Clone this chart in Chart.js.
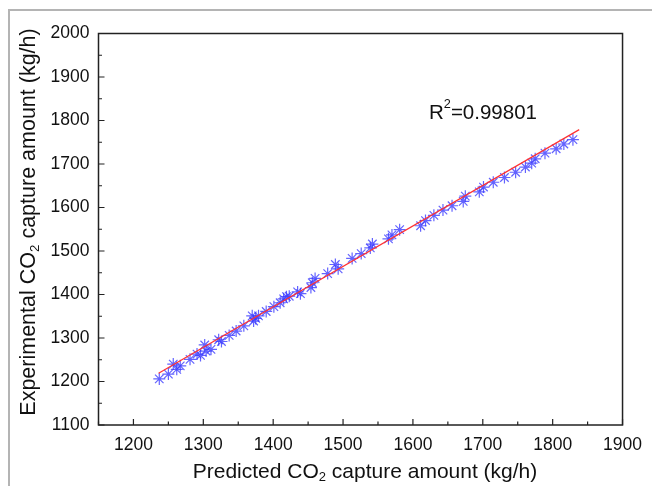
<!DOCTYPE html>
<html>
<head>
<meta charset="utf-8">
<script src="https://cdn.jsdelivr.net/npm/chart.js@4"></script>
<style>
    html, body { margin: 0; padding: 0; background: #fff; }
    #wrap { width: 652px; height: 486px; position: relative; }
</style>
</head>
<body>
<div id="wrap"><canvas id="fitChart" width="652" height="486"></canvas></div>
<script>
// values
const predicted = [1237, 1250, 1257, 1262, 1267, 1281, 1291, 1296, 1302, 1304, 1311, 1322, 1326, 1337, 1347, 1358,
    1370, 1372, 1375, 1379, 1390, 1401, 1410, 1415, 1419, 1423, 1435, 1439, 1454, 1456, 1460, 1478, 1489, 1493,
    1513, 1526, 1539, 1542, 1565, 1570, 1581, 1611, 1618, 1630, 1643, 1656, 1672, 1675, 1695, 1701, 1715, 1731,
    1747, 1761, 1770, 1775, 1789, 1805, 1816, 1829];
const experimental = [1206, 1217, 1240, 1228, 1236, 1251, 1263, 1260, 1284, 1270, 1274, 1296, 1292, 1306, 1316, 1328,
    1351, 1339, 1345, 1351, 1361, 1372, 1381, 1390, 1395, 1396, 1406, 1402, 1416, 1427, 1437, 1448, 1469, 1459,
    1483, 1494, 1507, 1516, 1528, 1537, 1549, 1558, 1570, 1582, 1594, 1604, 1614, 1626, 1636, 1647, 1658, 1669,
    1681, 1693, 1702, 1712, 1725, 1735, 1746, 1756];
const fitX = [1236, 1838];
const fitY = [1219, 1779];
const xTicks = [1200, 1300, 1400, 1500, 1600, 1700, 1800, 1900];
const yTicks = [1100, 1200, 1300, 1400, 1500, 1600, 1700, 1800, 1900, 2000];
const r2Text = '0.99801';

const FONT = '"Liberation Sans", Arial, sans-serif';

// text with a small subscript / superscript piece
function drawRich(ctx, parts, x, y, size) {
    let total = 0;
    parts.forEach(p => {
        ctx.font = (p.sub || p.sup ? size * 0.62 : size) + 'px ' + FONT;
        total += ctx.measureText(p.t).width;
    });
    let cx = x - total / 2;
    parts.forEach(p => {
        const s = p.sub || p.sup ? size * 0.62 : size;
        ctx.font = s + 'px ' + FONT;
        let dy = 0;
        if (p.sub) dy = size * 0.28;
        if (p.sup) dy = -size * 0.42;
        ctx.fillText(p.t, cx, y + dy);
        cx += ctx.measureText(p.t).width;
    });
}

const framePlugin = {
    id: 'frame',
    beforeDraw(chart) {
        const ctx = chart.ctx;
        ctx.save();
        ctx.strokeStyle = '#b4b4b4';
        ctx.lineWidth = 2;
        ctx.beginPath();
        ctx.moveTo(652, 10);
        ctx.lineTo(9, 10);
        ctx.lineTo(9, 486);
        ctx.stroke();
        ctx.restore();
    },
    afterDraw(chart) {
        const ctx = chart.ctx;
        const a = chart.chartArea;
        const xs = chart.scales.x, ys = chart.scales.y;
        ctx.save();
        ctx.strokeStyle = '#222';
        ctx.lineWidth = 1.5;
        ctx.strokeRect(a.left, a.top, a.right - a.left, a.bottom - a.top);
        ctx.lineWidth = 1.2;
        ctx.beginPath();
        // inward ticks, major and minor
        for (let v = 1150; v <= 1900; v += 50) {
            const px = xs.getPixelForValue(v);
            const len = v % 100 === 0 ? 6 : 3.5;
            ctx.moveTo(px, a.bottom);
            ctx.lineTo(px, a.bottom - len);
        }
        for (let v = 1100; v <= 2000; v += 50) {
            const py = ys.getPixelForValue(v);
            const len = v % 100 === 0 ? 6 : 3.5;
            ctx.moveTo(a.left, py);
            ctx.lineTo(a.left + len, py);
        }
        ctx.stroke();

        ctx.fillStyle = '#111';
        ctx.textBaseline = 'middle';
        ctx.textAlign = 'left';
        drawRich(ctx, [{t: 'Predicted CO'}, {t: '2', sub: true}, {t: ' capture amount (kg/h)'}], 365, 472, 21);
        ctx.translate(29, 222);
        ctx.rotate(-Math.PI / 2);
        drawRich(ctx, [{t: 'Experimental CO'}, {t: '2', sub: true}, {t: ' capture amount (kg/h)'}], 0, 0, 21.5);
        ctx.restore();

        ctx.save();
        ctx.fillStyle = '#111';
        ctx.textBaseline = 'middle';
        ctx.textAlign = 'left';
        drawRich(ctx, [{t: 'R'}, {t: '2', sup: true}, {t: '=' + r2Text}], 483, 113, 20.5);
        ctx.restore();
    }
};

new Chart(document.getElementById('fitChart'), {
    type: 'scatter',
    data: {
        datasets: [{
            label: 'Data',
            data: predicted.map((p, i) => ({x: p, y: experimental[i]})),
            pointStyle: 'star',
            pointRadius: 6,
            pointHoverRadius: 6,
            borderColor: 'rgba(60, 60, 255, 0.8)',
            backgroundColor: 'rgba(60, 60, 255, 0.8)',
            pointBorderWidth: 1.2,
            order: 2
        }, {
            label: 'Fit',
            type: 'line',
            data: fitX.map((x, i) => ({x: x, y: fitY[i]})),
            borderColor: 'rgb(255, 50, 50)',
            borderWidth: 1.2,
            pointRadius: 0,
            fill: false,
            order: 1
        }]
    },
    options: {
        responsive: false,
        animation: false,
        events: [],
        layout: { padding: { top: 33.5, right: 20.5, left: 0, bottom: 0 } },
        plugins: {
            legend: { display: false },
            tooltip: { enabled: false }
        },
        scales: {
            x: {
                type: 'linear',
                min: 1150,
                max: 1900,
                afterBuildTicks: s => { s.ticks = xTicks.map(v => ({value: v})); },
                afterFit: s => { s.height = 61; },
                grid: { display: false, drawTicks: false },
                border: { display: false },
                ticks: { color: '#111', font: { family: FONT, size: 17.5 }, padding: 10, maxRotation: 0,
                    callback: v => String(v) }
            },
            y: {
                type: 'linear',
                min: 1100,
                max: 2000,
                afterBuildTicks: s => { s.ticks = yTicks.map(v => ({value: v})); },
                afterFit: s => { s.width = 98.5; },
                grid: { display: false, drawTicks: false },
                border: { display: false },
                ticks: { color: '#111', font: { family: FONT, size: 17.5 }, padding: 9,
                    callback: v => String(v) }
            }
        }
    },
    plugins: [framePlugin]
});
</script>
</body>
</html>
